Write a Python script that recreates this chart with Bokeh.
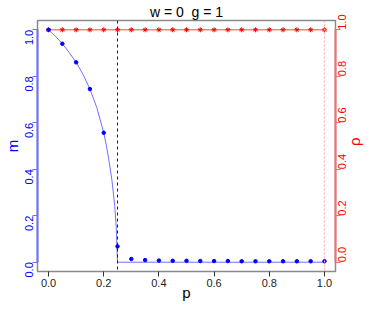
import math
from bokeh.plotting import figure
from bokeh.models import LinearAxis, Range1d, Span, FixedTicker, PrintfTickFormatter
from bokeh.embed import file_html
from bokeh.resources import INLINE

# data
p_pts = [0.0, 0.05, 0.10, 0.15, 0.20, 0.25, 0.30, 0.35, 0.40, 0.45, 0.50,
         0.55, 0.60, 0.65, 0.70, 0.75, 0.80, 0.85, 0.90, 0.95, 1.00]
m_pts = [1.0, 0.94, 0.86, 0.745, 0.557, 0.068, 0.014, 0.009, 0.007, 0.006, 0.006,
         0.005, 0.005, 0.005, 0.004, 0.004, 0.004, 0.004, 0.004, 0.004, 0.004]
rho_pts = [1.0] * 21

p_curve = [0.0, 0.025, 0.05, 0.075, 0.10, 0.125, 0.15, 0.175, 0.20, 0.21, 0.22,
           0.23, 0.24, 0.245, 0.25, 0.25, 1.0]
m_curve = [1.0, 0.972, 0.94, 0.902, 0.86, 0.808, 0.745, 0.665, 0.557, 0.50, 0.43,
           0.35, 0.24, 0.16, 0.0, 0.0, 0.0]
p_crit = 0.25
x_ticks = [0.0, 0.2, 0.4, 0.6, 0.8, 1.0]
y_ticks = [0.0, 0.2, 0.4, 0.6, 0.8, 1.0]
title_text = "w = 0 \u00a0g = 1"

FONT = "Liberation Sans"
BLUE = "#0000ff"
RED = "#ff0000"

p = figure(width=374, height=309, x_range=Range1d(-0.04, 1.04), y_range=Range1d(-0.04, 1.04),
           output_backend="svg", toolbar_location=None, x_axis_location=None, y_axis_location=None,
           min_border_left=37, min_border_right=37, min_border_top=18, min_border_bottom=38,
           title=title_text)
p.xgrid.visible = False
p.ygrid.visible = False
p.outline_line_color = "#8a8a8a"
p.outline_line_width = 1.5
p.background_fill_color = "white"
p.border_fill_color = "white"

p.title.align = "center"
p.title.text_font = FONT
p.title.text_font_size = "14px"
p.title.text_font_style = "normal"
p.title.text_color = "black"
p.title.standoff = 2

fmt = "%.1f"

xb = LinearAxis(ticker=FixedTicker(ticks=x_ticks), bounds=(0, 1),
                formatter=PrintfTickFormatter(format=fmt), axis_label="p")
xb.axis_line_color = None
xb.major_tick_line_color = "#333333"
xb.major_tick_out = 5
xb.major_tick_in = 0
xb.minor_tick_line_color = None
xb.major_label_text_font = FONT
xb.major_label_text_font_size = "11px"
xb.major_label_text_color = "#222222"
xb.major_label_standoff = 2
xb.axis_label_text_font = FONT
xb.axis_label_text_font_size = "15px"
xb.axis_label_text_font_style = "normal"
xb.axis_label_text_color = "black"
xb.axis_label_standoff = -6
p.add_layout(xb, "below")

yl = LinearAxis(ticker=FixedTicker(ticks=y_ticks), bounds=(0, 1),
                formatter=PrintfTickFormatter(format=fmt), axis_label="m")
yl.axis_line_color = "#6f6fff"
yl.axis_line_width = 2
yl.major_tick_line_color = "#6f6fff"
yl.major_tick_out = 5
yl.major_tick_in = 0
yl.minor_tick_line_color = None
yl.major_label_orientation = math.pi / 2
yl.major_label_text_font = FONT
yl.major_label_text_font_size = "11px"
yl.major_label_text_color = BLUE
yl.major_label_standoff = 3
yl.axis_label_text_font = FONT
yl.axis_label_text_font_size = "15px"
yl.axis_label_text_font_style = "normal"
yl.axis_label_text_color = BLUE
yl.axis_label_standoff = -2
p.add_layout(yl, "left")

yr = LinearAxis(ticker=FixedTicker(ticks=y_ticks), bounds=(0, 1),
                formatter=PrintfTickFormatter(format=fmt), axis_label="ρ")
yr.axis_line_color = "#ee6f6f"
yr.axis_line_width = 2
yr.major_tick_line_color = "#ee6f6f"
yr.major_tick_out = 5
yr.major_tick_in = 0
yr.minor_tick_line_color = None
yr.major_label_orientation = math.pi / 2
yr.major_label_text_font = FONT
yr.major_label_text_font_size = "11px"
yr.major_label_text_color = RED
yr.major_label_standoff = 2
yr.axis_label_text_font = FONT
yr.axis_label_text_font_size = "15px"
yr.axis_label_text_font_style = "normal"
yr.axis_label_text_color = RED
yr.axis_label_standoff = 1
try:
    yr.axis_label_orientation = math.pi / 2
except Exception:
    pass
p.add_layout(yr, "right")

# reference lines
p.add_layout(Span(location=p_crit, dimension="height", line_color=BLUE, line_dash="3 3", line_width=1))
p.add_layout(Span(location=1.0, dimension="height", line_color="#ffaaaa", line_dash="2 2", line_width=1.2))

# rho
p.line([p_pts[0], p_pts[-1]], [rho_pts[0], rho_pts[-1]], line_color="#ff8080", line_width=1.5)
p.scatter(p_pts, rho_pts, marker="asterisk", size=5, line_color=RED, line_width=1)

# m
p.line(p_curve, m_curve, line_color="#7070ff", line_width=1)
p.scatter(p_pts, m_pts, marker="circle", size=3.5, fill_color=BLUE, line_color=BLUE)

open("out.html", "w").write(file_html(p, INLINE))
